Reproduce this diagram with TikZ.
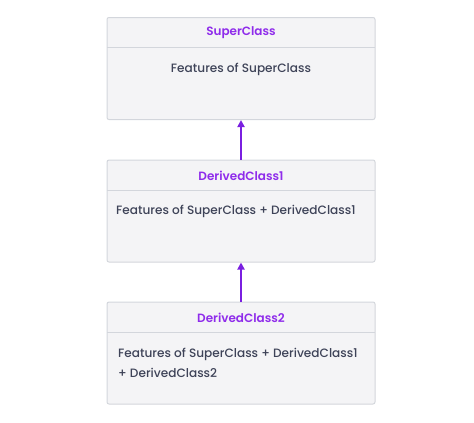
\documentclass[tikz,border=0pt]{standalone}
\usepackage{fontspec}
\setmainfont{Poppins}
\newfontfamily\medfont{Poppins Medium}
\newfontfamily\semifont{Poppins SemiBold}
\usetikzlibrary{arrows.meta, positioning}

\definecolor{boxfill}{HTML}{F4F4F6}
\definecolor{boxline}{HTML}{D3D6DC}
\definecolor{headtext}{HTML}{8F2CEB}
\definecolor{bodytext}{HTML}{3E4358}
\definecolor{arrowcol}{HTML}{7A1FE0}

\begin{document}
\begin{tikzpicture}[
            x=1pt, y=-1pt,
            classbox/.style={
                draw=boxline, fill=boxfill, line width=1pt, rounded corners=2pt,
                minimum width=268pt, minimum height=102pt, inner sep=0pt
            },
            headlabel/.style={font=\semifont\fontsize{12}{14}\selectfont, text=headtext},
            bodylabel/.style={font=\medfont\fontsize{12.1}{20}\selectfont, text=bodytext, inner sep=0pt},
            inherit/.style={-{Triangle[length=7pt, width=7pt]}, draw=arrowcol, line width=2pt}
        ]
        \useasboundingbox (0, 0) rectangle (474, 423);

        % the three classes
        \node[classbox] (super) at (241, 68.5) {};
        \node[classbox] (derivedA) at (241, 211) {};
        \node[classbox] (derivedB) at (241, 353) {};

        \draw[boxline, line width=1pt] (107, 47) -- (375, 47);
        \draw[boxline, line width=1pt] (107, 190) -- (375, 190);
        \draw[boxline, line width=1pt] (107, 332) -- (375, 332);

        \node[headlabel] (superHead) at (241, 32.5) {SuperClass};
        \node[headlabel] (derivedAHead) at (241, 175.5) {DerivedClass1};
        \node[headlabel] (derivedBHead) at (241, 317.5) {DerivedClass2};

        \node[bodylabel] (superBody) at (241, 69.5) {Features of SuperClass};
        \node[bodylabel, anchor=west] (derivedABody) at (116, 211.5) {Features of SuperClass + DerivedClass1};
        \node[bodylabel, anchor=north west, align=left] (derivedBBody) at (118, 347.5)
            {Features of SuperClass + DerivedClass1\\+ DerivedClass2};

        % inheritance arrows
        \draw[inherit] (derivedA.north) -- (super.south);
        \draw[inherit] (derivedB.north) -- (derivedA.south);
    \end{tikzpicture}
\end{document}
